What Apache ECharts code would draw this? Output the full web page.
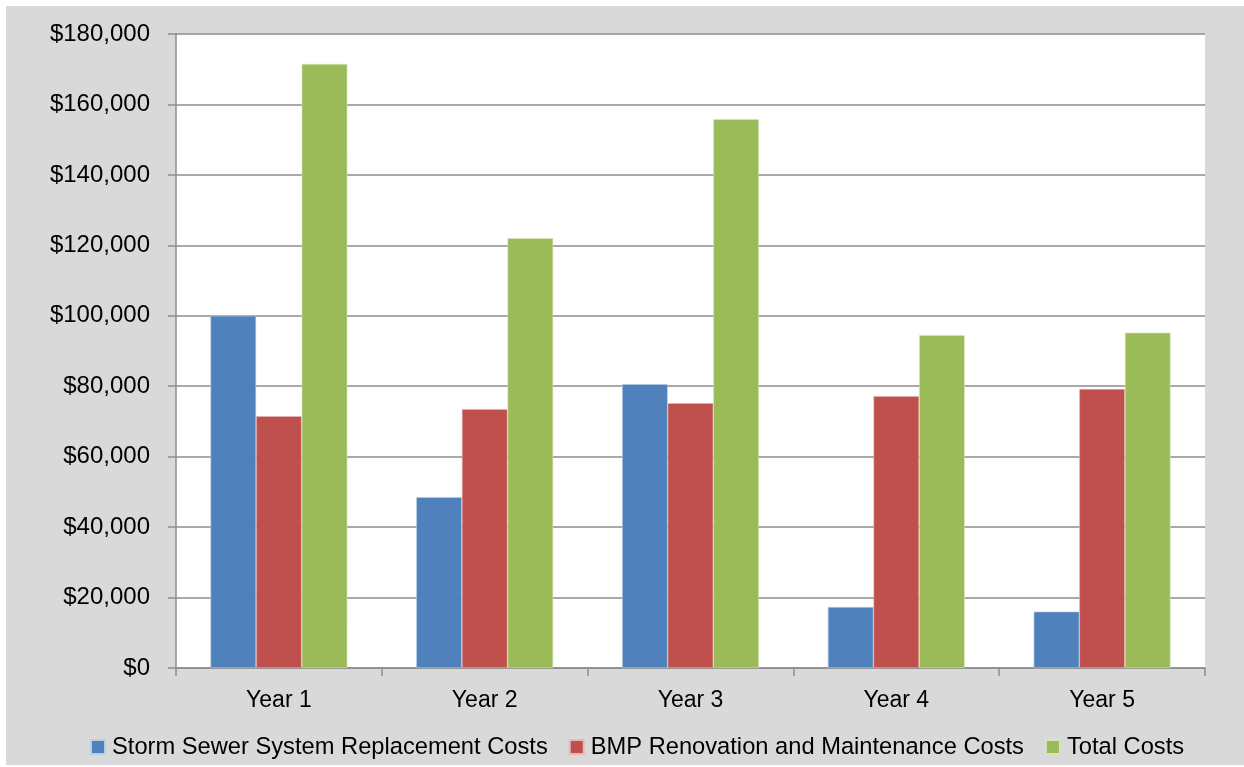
<!DOCTYPE html>
<html>
<head>
<meta charset="utf-8">
<script src="https://cdn.jsdelivr.net/npm/echarts@6/dist/echarts.min.js"></script>
<style>
html,body{margin:0;padding:0;background:#ffffff;width:1244px;height:767px;overflow:hidden;}
#chart{position:absolute;left:6px;top:6px;width:1238px;height:759px;}
</style>
</head>
<body>
<div id="chart"></div>
<script>
const categories = ["Year 1", "Year 2", "Year 3", "Year 4", "Year 5"];
const stormSewer = [100000, 48500, 80600, 17300, 16000];
const bmpRenovation = [71500, 73500, 75200, 77200, 79200];
const totalCosts = [171500, 122000, 155800, 94500, 95200];
const seriesNames = ["Storm Sewer System Replacement Costs", "BMP Renovation and Maintenance Costs", "Total Costs"];
const yTicks = { min: 0, max: 180000, interval: 20000 };

const FONT = "Liberation Sans";
const chart = echarts.init(document.getElementById('chart'), null, {renderer: 'canvas'});
const colors = ['#4f81bd', '#c0504d', '#9bbb59'];
const borders = ['#b9cde5', '#e6b9b8', '#d7e4bd'];
function mk(name, data, i) {
  return {
    name: name, type: 'bar', data: data,
    barGap: '0%', barCategoryGap: '33.5%',
    itemStyle: {color: colors[i], borderColor: borders[i], borderWidth: 0.6},
    emphasis: {disabled: true}
  };
}
chart.setOption({
  backgroundColor: '#d9d9d9',
  animation: false,
  textStyle: {fontFamily: FONT},
  grid: {left: 170, right: 39, top: 28, bottom: 97, backgroundColor: '#ffffff', show: true, borderWidth: 0},
  legend: {
    bottom: 1, left: 79,
    itemWidth: 14, itemHeight: 14, itemGap: 21,
    icon: 'rect',
    textStyle: {fontFamily: FONT, fontSize: 23.7, color: '#000000', padding: [0, 0, 0, 2]},
    data: seriesNames
  },
  xAxis: {
    type: 'category', data: categories,
    axisLine: {lineStyle: {color: '#8c8c8c', width: 1.5}},
    axisTick: {show: true, length: 8, lineStyle: {color: '#8c8c8c', width: 1.5}},
    axisLabel: {color: '#000000', fontSize: 23, margin: 21, fontFamily: FONT}
  },
  yAxis: {
    type: 'value', min: yTicks.min, max: yTicks.max, interval: yTicks.interval,
    axisLine: {show: true, lineStyle: {color: '#8c8c8c', width: 1.5}},
    axisTick: {show: true, length: 8, lineStyle: {color: '#8c8c8c', width: 1.5}},
    splitLine: {lineStyle: {color: '#8c8c8c', width: 1.5}},
    axisLabel: {
      color: '#000000', fontSize: 24, margin: 26, fontFamily: FONT,
      formatter: v => '$' + v.toLocaleString('en-US')
    }
  },
  series: [
    mk(seriesNames[0], stormSewer, 0),
    mk(seriesNames[1], bmpRenovation, 1),
    mk(seriesNames[2], totalCosts, 2)
  ]
});
</script>
</body>
</html>
